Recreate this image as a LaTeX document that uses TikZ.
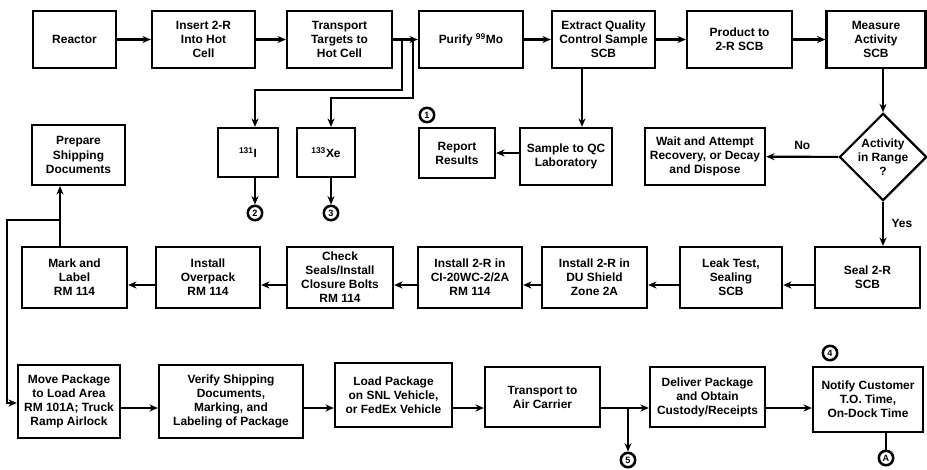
\documentclass[tikz,border=0pt]{standalone}
\usepackage{fontspec}
\setmainfont{Liberation Sans}
\usetikzlibrary{arrows.meta, positioning, shapes.geometric}

\tikzset{
    blk/.style 2 args={draw, line width=1.6pt, align=center, inner sep=1pt,
        font=\bfseries\fontsize{8.5}{10}\selectfont,
        minimum width=#1*0.025cm, minimum height=#2*0.025cm},
    flow/.style={line width=1.5pt, -{Stealth[length=6pt,width=5pt]}},
    wire/.style={line width=1.5pt},
    conn/.style={circle, draw, line width=1.8pt, inner sep=0pt,
        minimum size=0.36cm, font=\bfseries\fontsize{6.5}{7}\selectfont},
    lbl/.style={font=\bfseries\fontsize{8.5}{10}\selectfont}
}

\begin{document}
\begin{tikzpicture}[x=0.025cm, y=-0.025cm]
    \useasboundingbox (0,0) rectangle (927,469);
    % top row
    \node[blk={83}{57}] (reactor) at (74.5,39.5) {Reactor};
    \node[blk={103}{57}] (insert) at (203.5,39.5) {Insert 2-R\\Into Hot\\Cell};
    \node[blk={105}{57}] (transp) at (339.5,39.5) {Transport\\Targets to\\Hot Cell};
    \node[blk={104}{57}] (purify) at (471,39.5) {Purify \textsuperscript{99}Mo};
    \node[blk={103}{57}] (extract) at (603.5,39.5) {Extract Quality\\Control Sample\\SCB};
    \node[blk={105}{57}] (product) at (739.5,39.5) {Product to\\2-R SCB};
    \node[blk={99}{57}] (measure) at (876,39.5) {Measure\\Activity\\SCB};
    % second row
    \node[blk={93}{60}] (prep) at (78.5,155) {Prepare\\Shipping\\Documents};
    \node[blk={60}{49}] (iodine) at (248,152.5) {\textsuperscript{131}I};
    \node[blk={58}{49}] (xenon) at (326,152.5) {\textsuperscript{133}Xe};
    \node[blk={76}{50}] (report) at (457,153) {Report\\Results};
    \node[blk={92}{57}] (sample) at (566,156.5) {Sample to QC\\Laboratory};
    \node[blk={120}{57}] (wait) at (705,156.5) {Wait and Attempt\\Recovery, or Decay\\and Dispose};
    \node[draw, diamond, line width=1.6pt, inner sep=0pt, align=center,
        font=\bfseries\fontsize{8.5}{10}\selectfont,
        minimum width=77*0.025cm, minimum height=74*0.025cm] (act) at (883,157) {Activity\\in Range\\?};
    % third row
    \node[blk={105}{61}] (mark) at (74.5,277.5) {Mark and\\Label\\RM 114};
    \node[blk={104}{61}] (overpack) at (208,277.5) {Install\\Overpack\\RM 114};
    \node[blk={106}{61}] (check) at (340,277.5) {Check\\Seals/Install\\Closure Bolts\\RM 114};
    \node[blk={104}{61}] (cibox) at (470,277.5) {Install 2-R in\\CI-20WC-2/2A\\RM 114};
    \node[blk={105}{61}] (du) at (594.5,277.5) {Install 2-R in\\DU Shield\\Zone 2A};
    \node[blk={102}{61}] (leak) at (731,277.5) {Leak Test,\\Sealing\\SCB};
    \node[blk={105}{61}] (seal) at (867.5,277.5) {Seal 2-R\\SCB};
    % bottom row
    \node[blk={102}{73}] (move) at (69,401.5) {Move Package\\to Load Area\\RM 101A; Truck\\Ramp Airlock};
    \node[blk={144}{73}] (verify) at (231,401.5) {Verify Shipping\\Documents,\\Marking, and\\Labeling of Package};
    \node[blk={117}{64}] (load) at (393.5,395) {Load Package\\on SNL Vehicle,\\or FedEx Vehicle};
    \node[blk={115}{60}] (air) at (542.5,397) {Transport to\\Air Carrier};
    \node[blk={115}{60}] (deliver) at (707.5,397) {Deliver Package\\and Obtain\\Custody/Receipts};
    \node[blk={110}{65}] (notify) at (868,399.5) {Notify Customer\\T.O. Time,\\On-Dock Time};
    % off-page connectors
    \node[conn] (c1) at (427,115) {1};
    \node[conn] (c2) at (255,213) {2};
    \node[conn] (c3) at (331,213) {3};
    \node[conn] (c4) at (830,353) {4};
    \node[conn] (c5) at (628,460) {5};
    \node[conn] (cA) at (886,458) {A};
    % helper coordinates
    \coordinate (busI) at (402,39.5);
    \coordinate (busX) at (413,39.5);
    \coordinate (qc) at (582,0);
    \coordinate (r3) at (0,285);
    \coordinate (r4) at (0,408);
    \coordinate (up) at (60,0);
    \coordinate (fork) at (60,220);
    \coordinate (tap5) at (628,408);

    % top row
    \draw[flow] (reactor) -- (insert);
    \draw[flow] (insert) -- (transp);
    \draw[flow] (transp) -- (purify);
    \draw[flow] (busI) |- (255,90) -- (c2 |- iodine.north);
    \draw[flow] (busX) |- (331,98) -- (c3 |- xenon.north);
    \draw[flow] (c2 |- iodine.south) -- (c2);
    \draw[flow] (c3 |- xenon.south) -- (c3);
    \draw[flow] (purify) -- (extract);
    \draw[flow] (extract) -- (product);
    \draw[flow] (product) -- (measure);
    \draw[flow] (qc |- extract.south) -- (qc |- sample.north);
    \draw[flow] (sample.west |- report) -- (report);
    \draw[flow] (act.north |- measure.south) -- (act);
    \draw[flow] (act) -- node[lbl, above=1pt] {No} (wait);
    \draw[flow] (act) -- node[lbl, right=2pt] {Yes} (act.south |- seal.north);
    % third row
    \draw[flow] (seal.west |- r3) -- (leak.east |- r3);
    \draw[flow] (leak.west |- r3) -- (du.east |- r3);
    \draw[flow] (du.west |- r3) -- (cibox.east |- r3);
    \draw[flow] (cibox.west |- r3) -- (check.east |- r3);
    \draw[flow] (check.west |- r3) -- (overpack.east |- r3);
    \draw[flow] (overpack.west |- r3) -- (mark.east |- r3);
    \draw[flow] (up |- mark.north) -- (up |- prep.south);
    \draw[flow] (fork) -- (7,220) |- (move.west |- 0,403);
    % bottom row
    \draw[flow] (move.east |- r4) -- (verify.west |- r4);
    \draw[flow] (verify.east |- r4) -- (load.west |- r4);
    \draw[flow] (load.east |- r4) -- (air.west |- r4);
    \draw[flow] (air.east |- r4) -- (deliver.west |- r4);
    \draw[flow] (tap5) -- (c5);
    \draw[flow] (deliver.east |- r4) -- (notify.west |- r4);
    \draw[wire] (cA |- notify.south) -- (cA);
\end{tikzpicture}
\end{document}
